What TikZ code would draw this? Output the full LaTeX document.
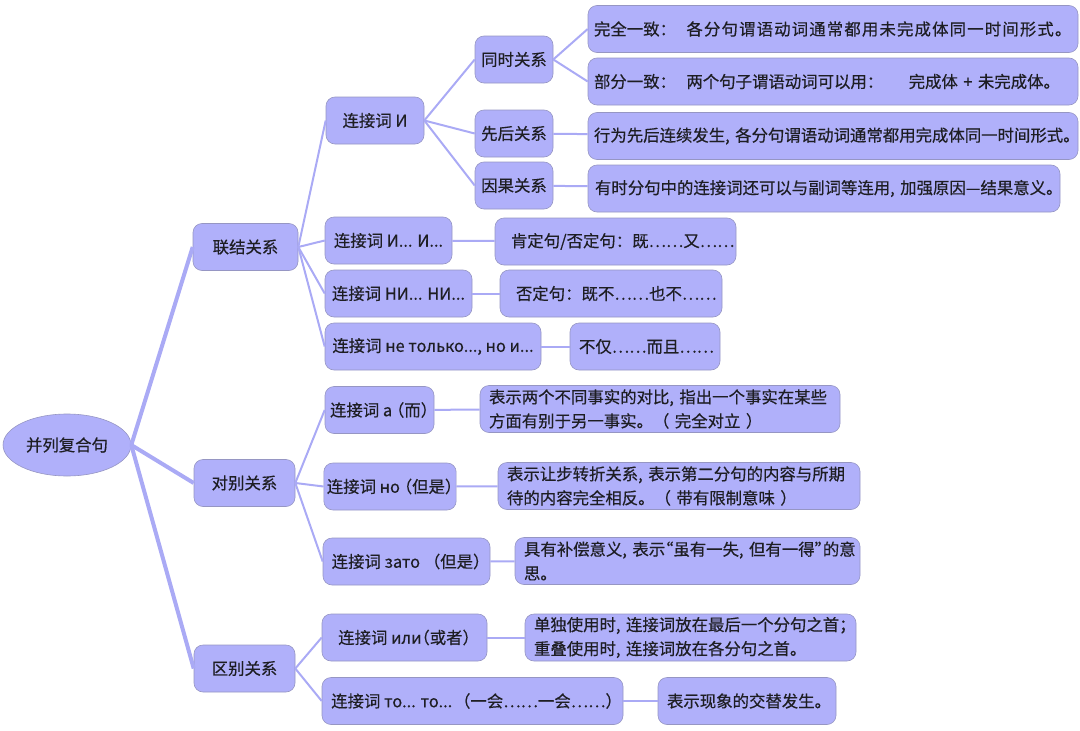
\documentclass[tikz,border=0pt]{standalone}
\usepackage{fontspec}
\setmainfont{Noto Sans CJK SC}[FakeBold=0.4]
\newfontfamily\halffont{Noto Sans CJK SC}[FakeBold=0.4, RawFeature=+halt]
\newcommand{\hw}[1]{{\halffont #1}}
\usetikzlibrary{shapes.geometric}
\definecolor{boxfill}{RGB}{176,176,250}
\definecolor{boxline}{RGB}{150,150,195}
\definecolor{linkcol}{RGB}{170,170,245}
\definecolor{textcol}{RGB}{30,30,35}
\tikzset{
	box/.style={draw=boxline, fill=boxfill, rounded corners=9pt, text=textcol, font=\fontsize{16.4}{24}\selectfont, inner xsep=3pt, inner ysep=2pt, minimum height=47pt, line width=0.6pt},
	note/.style={box, align=left, inner xsep=9pt, text width=#1},
	wide/.style={note=478pt, inner xsep=6pt},
	root/.style={box, ellipse, rounded corners=0pt, minimum width=128pt, minimum height=62pt, inner sep=0pt},
	link/.style={draw=linkcol, line width=2pt},
	trunk/.style={link, line width=4pt}
}
\begin{document}
\begin{tikzpicture}[x=1pt, y=-1pt]
	\useasboundingbox (0,0) rectangle (1080,731);

	\node[root] (root) at (67,445) {并列复合句};
	\node[box, minimum width=105pt] (lianjie) at (245.5,247) {联结关系};
	\node[box, minimum width=101pt] (duibie) at (244.5,483) {对别关系};
	\node[box, minimum width=101pt] (qubie) at (244.5,668.5) {区别关系};

	\node[box, minimum width=98pt] (conjI) at (375,120.5) {连接词 И};
	\node[box, minimum width=78pt] (tongshi) at (514,59.5) {同时关系};
	\node[box, minimum width=78pt] (xianhou) at (514,133.5) {先后关系};
	\node[box, minimum width=78pt] (yinguo) at (514,185.5) {因果关系};
	\node[wide] (wanquan) at (833,29) {完全一致：\hspace{5pt}~{\addfontfeature{LetterSpace=7}各分句谓语动词通常都用未完成体同一时间形式。}};
	\node[wide] (bufen) at (833,81.5) {部分一致：\hspace{5pt}~两个句子谓语动词可以用：\hspace{20pt}~完成体~+~未完成体。};
	\node[wide] (xingwei) at (833,136) {行为先后连续发生,~各分句谓语动词通常都用完成体同一时间形式。};
	\node[note=458pt, inner xsep=7pt] (youshi) at (824,188.5) {有时分句中的连接词还可以与副词等连用,~加强\mbox{原因—结果}意义。};

	\node[box, minimum width=127pt] (conjII) at (388.5,240.5) {连接词 И... И...};
	\node[note=209pt, inner xsep=16pt] (kending) at (615.5,241.5) {肯定句/否定句：既……又……};
	\node[box, minimum width=147pt] (conjNI) at (398.5,293.5) {连接词 НИ... НИ...};
	\node[note=190pt, inner xsep=16pt] (fouding) at (611,293.5) {否定句：既不……也不……};
	\node[box, minimum width=216pt] (conjNT) at (433,346.5) {连接词 не только..., но и...};
	\node[note=132pt] (bujin) at (645,346.5) {不仅……而且……};

	\node[box, minimum width=109pt] (conjA) at (379.5,410) {连接词 а\hspace{4pt}\hw{（}而\hw{）}};
	\node[note=342pt] (duibi) at (660,409) {表示两个不同事实的对比,~指出一个事实在某些\\方面有别于另一事实。（~完全对立~）};
	\node[box, minimum width=130pt] (conjNO) at (390,486.5) {连接词 но\hspace{4pt}\hw{（}但是\hw{）}};
	\node[note=344pt] (rangbu) at (679,486) {表示让步转折关系,~表示第二分句的内容与所期\\待的内容完全相反。（~带有限制意味~）};
	\node[box, minimum width=167pt] (conjZATO) at (406.5,561.5) {连接词 зато\hspace{12pt}\hw{（}但是\hw{）}};
	\node[note=327pt] (buchang) at (687.5,561) {具有补偿意义,~表示\hw{“}虽有一失,~但有一得\hw{”}的意\\思。};

	\node[box, minimum width=165pt] (conjILI) at (404.5,637.5) {连接词 или\hw{（}或者\hw{）}};
	\node[note=313pt] (dandu) at (690.5,637.5) {单独使用时,~连接词放在最后一个分句之首；\\重叠使用时,~连接词放在各分句之首。};
	\node[box, minimum width=301pt] (conjTO) at (472.5,701) {连接词 то... то...\hspace{10pt}\hw{（}一会……一会……\hw{）}};
	\node[note=160pt] (jiaoti) at (747,701) {表示现象的交替发生。};

	\draw[trunk] (root.east) -- (lianjie.west);
	\draw[trunk] (root.east) -- (duibie.west);
	\draw[trunk] (root.east) -- (qubie.west);

	\foreach \n in {conjI, conjII, conjNI, conjNT}
		\draw[link] (lianjie.east) -- (\n.west);
	\foreach \n in {tongshi, xianhou, yinguo}
		\draw[link] (conjI.east) -- (\n.west);
	\draw[link] (tongshi.east) -- (wanquan.west);
	\draw[link] (tongshi.east) -- (bufen.west);
	\draw[link] (xianhou) -- (xingwei);
	\draw[link] (yinguo) -- (youshi);
	\draw[link] (conjII) -- (kending);
	\draw[link] (conjNI) -- (fouding);
	\draw[link] (conjNT) -- (bujin);

	\foreach \n in {conjA, conjNO, conjZATO}
		\draw[link] (duibie.east) -- (\n.west);
	\draw[link] (conjA) -- (duibi);
	\draw[link] (conjNO) -- (rangbu);
	\draw[link] (conjZATO) -- (buchang);

	\foreach \n in {conjILI, conjTO}
		\draw[link] (qubie.east) -- (\n.west);
	\draw[link] (conjILI) -- (dandu);
	\draw[link] (conjTO) -- (jiaoti);
\end{tikzpicture}
\end{document}
